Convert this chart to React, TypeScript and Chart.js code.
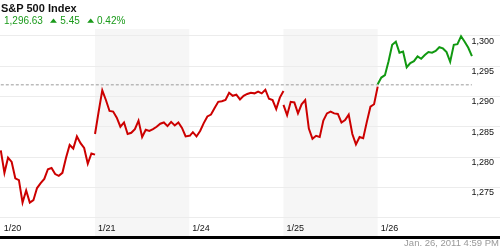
import React, { useEffect, useRef } from 'react';
import { Chart, registerables } from 'chart.js';

Chart.register(...registerables);

// ---- data ----
const dayLabels = ['1/20', '1/21', '1/24', '1/25', '1/26'];
const dayTicks = [0, 1, 2, 3, 4];
const shadedDays = [1, 3];

const day0120 = [1281.1, 1277.4, 1279.9, 1279.2, 1276.5, 1276.2, 1272.5, 1274.5, 1272.5, 1272.9, 1274.9, 1275.7, 1276.4, 1278.0, 1278.2, 1277.2, 1276.9, 1277.4, 1279.9, 1282.0, 1281.4, 1283.4, 1282.3, 1281.5, 1278.9, 1280.6, 1280.4];
const day0121 = [1283.8, 1287.5, 1291.0, 1289.4, 1287.6, 1287.5, 1286.5, 1285.0, 1285.7, 1283.8, 1284.0, 1284.6, 1286.0, 1283.3, 1284.5, 1284.3, 1284.6, 1285.0, 1285.5, 1285.7, 1285.1, 1285.8, 1285.2, 1285.7, 1284.8, 1283.4, 1283.5];
const day0124 = [1283.4, 1284.1, 1283.4, 1284.3, 1285.6, 1286.7, 1287.0, 1288.1, 1289.1, 1289.2, 1289.4, 1290.6, 1290.1, 1290.3, 1289.5, 1290.1, 1290.4, 1290.6, 1290.5, 1290.8, 1290.5, 1291.1, 1289.6, 1289.4, 1287.9, 1289.8, 1290.9];
const day0125 = [1288.6, 1286.9, 1289.1, 1289.0, 1287.2, 1288.7, 1289.4, 1284.7, 1283.0, 1283.5, 1283.3, 1286.0, 1287.2, 1287.5, 1287.2, 1287.1, 1285.7, 1286.1, 1287.0, 1283.8, 1282.1, 1283.3, 1283.1, 1285.8, 1288.3, 1288.7, 1291.6];
const day0126 = [1292.0, 1293.1, 1293.5, 1295.8, 1298.5, 1299.0, 1297.2, 1297.4, 1294.8, 1295.5, 1295.8, 1296.6, 1296.2, 1296.8, 1297.3, 1297.2, 1297.5, 1298.1, 1297.9, 1297.3, 1295.7, 1298.5, 1298.6, 1299.9, 1299.0, 1298.0, 1296.63];
const sessions = [day0120, day0121, day0124, day0125, day0126];

const previousClose = 1291.9;

const yTicks = [1270, 1275, 1280, 1285, 1290, 1295, 1300];
const yTickLabels = ['', '1,275', '1,280', '1,285', '1,290', '1,295', '1,300'];

const titleText = 'S&P 500 Index';
const lastPrice = '1,296.63';
const changeValue = '5.45';
const changePercent = '0.42%';
const timestampText = 'Jan. 26, 2011 4:59 PM';

const RED = '#cc0000';
const GREEN = '#119911';
const TEXT_GREEN = '#1a9a1a';
const FONT = '"Liberation Sans", Arial, Helvetica, sans-serif';

const bandsPlugin = {
  id: 'dayBands',
  beforeDraw(chart: any) {
    const { ctx, chartArea, scales } = chart;
    const x = scales.x;
    ctx.save();
    ctx.fillStyle = '#f6f6f6';
    shadedDays.forEach((d) => {
      const x0 = x.getPixelForValue(d);
      const x1 = x.getPixelForValue(d + 1);
      ctx.fillRect(x0, chartArea.top, x1 - x0, chartArea.bottom - chartArea.top);
    });
    ctx.restore();
  },
};

export default function App() {
  const canvasRef = useRef<HTMLCanvasElement | null>(null);

  useEffect(() => {
    if (!canvasRef.current) return;
    Chart.defaults.font.family = FONT;

    const lineDatasets = sessions.map((vals, d) => ({
      type: 'line' as const,
      data: vals.map((y, i) => ({ x: d + i / (vals.length - 1), y })),
      borderColor: RED,
      segment: {
        borderColor: (c: any) =>
          (c.p0.parsed.y + c.p1.parsed.y) / 2 >= previousClose ? GREEN : RED,
      },
      borderWidth: 2,
      pointRadius: 0,
      tension: 0,
      order: 1,
    }));

    const closeDataset = {
      type: 'line' as const,
      data: [
        { x: 0, y: previousClose },
        { x: dayTicks.length, y: previousClose },
      ],
      borderColor: '#9a9a9a',
      borderWidth: 1,
      borderDash: [3, 2],
      pointRadius: 0,
      order: 2,
    };

    const chart = new Chart(canvasRef.current, {
      type: 'line',
      data: { datasets: [...lineDatasets, closeDataset] as any },
      plugins: [bandsPlugin],
      options: {
        animation: false,
        responsive: false,
        devicePixelRatio: 1,
        layout: { padding: { top: 29, bottom: 12.5, left: 0, right: 0 } },
        plugins: { legend: { display: false }, tooltip: { enabled: false } },
        scales: {
          x: {
            type: 'linear',
            min: -0.0085,
            max: 5.298,
            grid: { display: false, drawTicks: false },
            border: { display: true, color: '#000', width: 3 },
            afterBuildTicks: (s: any) => {
              s.ticks = dayTicks.map((v) => ({ value: v }));
            },
            afterFit: (s: any) => {
              s.height = 0;
              s.paddingLeft = 0;
              s.paddingRight = 0;
            },
            ticks: {
              autoSkip: false,
              maxRotation: 0,
              minRotation: 0,
              mirror: true,
              align: 'start',
              labelOffset: 3,
              padding: 3.5,
              color: '#111',
              font: { size: 9 },
              callback: (_v: any, i: number) => dayLabels[i],
            },
          },
          y: {
            type: 'linear',
            position: 'right',
            min: 1266.75,
            max: 1301.1,
            grid: { color: '#ececec', lineWidth: 1, drawTicks: false },
            border: { display: false },
            afterBuildTicks: (s: any) => {
              s.ticks = yTicks.map((v) => ({ value: v }));
            },
            afterFit: (s: any) => {
              s.width = 0;
              s.paddingTop = 0;
              s.paddingBottom = 0;
            },
            ticks: {
              mirror: true,
              padding: -6,
              labelOffset: 5.5,
              color: '#111',
              font: { size: 9 },
              callback: (_v: any, i: number) => yTickLabels[i],
            },
          },
        },
      } as any,
    });
    return () => chart.destroy();
  }, []);

  const abs = (extra: React.CSSProperties): React.CSSProperties => ({
    position: 'absolute',
    whiteSpace: 'nowrap',
    fontFamily: FONT,
    ...extra,
  });

  const tri = (left: number): React.CSSProperties =>
    abs({
      left,
      top: 14.9,
      fontSize: 9,
      lineHeight: '9px',
      fontFamily: '"DejaVu Sans", sans-serif',
      color: TEXT_GREEN,
      transform: 'scaleY(0.6)',
      transformOrigin: '50% 7.6px',
    });

  return (
    <div
      style={{
        position: 'fixed',
        left: 0,
        top: 0,
        width: 500,
        height: 250,
        background: '#fff',
        overflow: 'hidden',
      }}
    >
      <canvas ref={canvasRef} width={500} height={250} style={{ display: 'block', width: 500, height: 250 }} />
      <div style={abs({ left: 1, top: 3, fontSize: 11, lineHeight: '11px', fontWeight: 'bold', color: '#111' })}>
        {titleText}
      </div>
      <div style={abs({ left: 4, top: 15.5, fontSize: 10, lineHeight: '10px', color: TEXT_GREEN })}>{lastPrice}</div>
      <div style={tri(50)}>▲</div>
      <div style={abs({ left: 60.3, top: 15.5, fontSize: 10, lineHeight: '10px', color: TEXT_GREEN })}>{changeValue}</div>
      <div style={tri(87.3)}>▲</div>
      <div style={abs({ left: 97, top: 15.5, fontSize: 10, lineHeight: '10px', color: TEXT_GREEN })}>{changePercent}</div>
      <div style={abs({ right: 1, top: 238, fontSize: 9.5, lineHeight: '9.5px', color: '#999' })}>{timestampText}</div>
    </div>
  );
}
